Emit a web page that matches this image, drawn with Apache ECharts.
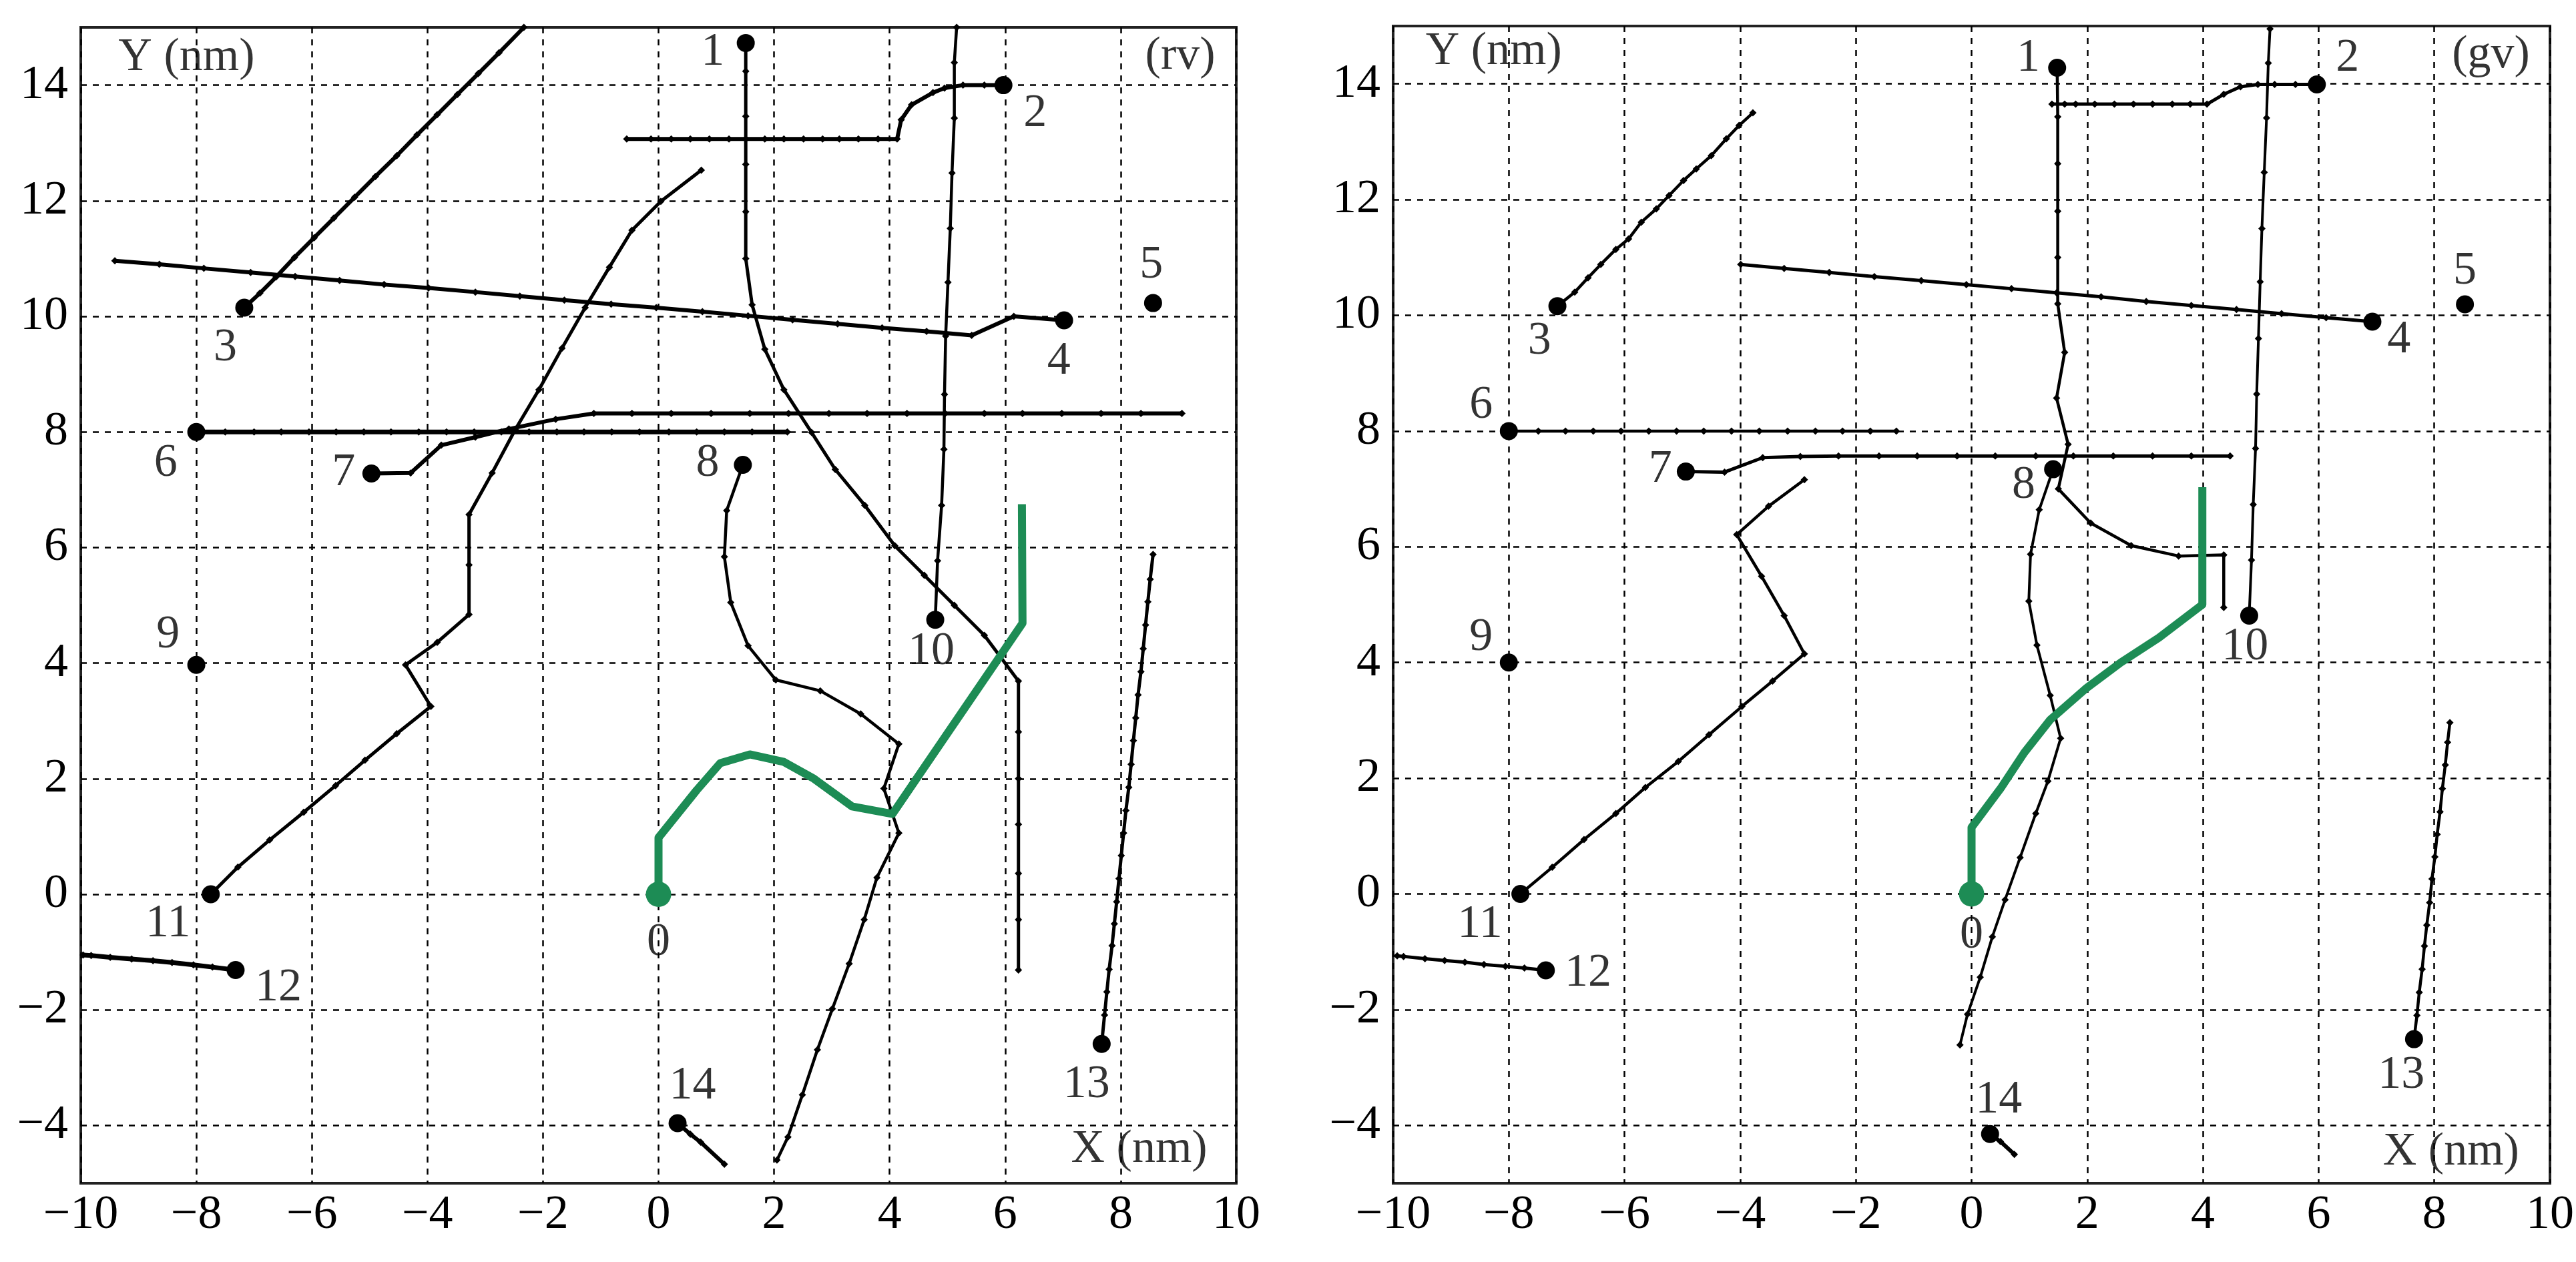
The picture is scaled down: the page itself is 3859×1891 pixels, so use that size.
<!DOCTYPE html>
<html><head><meta charset="utf-8">
<script src="https://cdn.jsdelivr.net/npm/echarts@6/dist/echarts.min.js"></script>
<style>html,body{margin:0;padding:0;background:#fff}#c{width:3859px;height:1891px}</style>
</head><body><div id="c"></div>
<script>
// ---------- axes ----------
const xTickValues = [-10,-8,-6,-4,-2,0,2,4,6,8,10];
const yTickValues = [-4,-2,0,2,4,6,8,10,12,14];

// ---------- panel (rv) ----------
const rvTrack1 = [[1.51,14.73],[1.51,14.24],[1.51,13.46],[1.51,12.63],[1.51,11.81],[1.51,11.0],[1.62,10.2],[1.84,9.43],[2.17,8.73],[2.65,7.99],[3.06,7.35],[3.57,6.73],[4.09,6.03],[4.6,5.52],[5.12,5.0],[5.64,4.48],[6.23,3.69],[6.23,2.81],[6.23,2.0],[6.23,1.21],[6.23,0.36],[6.23,-0.44],[6.23,-1.31]];
const rvTrack2 = [[5.97,14.0],[5.64,14.0],[5.27,14.0],[4.95,13.95],[4.75,13.87],[4.38,13.66],[4.2,13.4],[4.13,13.07],[3.8,13.07],[3.46,13.07],[3.13,13.07],[2.84,13.07],[2.51,13.07],[2.17,13.07],[1.84,13.07],[1.51,13.07],[1.22,13.07],[0.88,13.07],[0.55,13.07],[0.22,13.07],[-0.13,13.07],[-0.55,13.07]];
const rvTrack3 = [[-7.17,10.15],[-6.9,10.4],[-6.62,10.68],[-6.3,11.02],[-5.96,11.36],[-5.62,11.7],[-5.26,12.06],[-4.9,12.42],[-4.53,12.78],[-4.18,13.14],[-3.83,13.49],[-3.48,13.84],[-3.12,14.2],[-2.76,14.56],[-2.33,15.0]];
const rvTrack4 = [[7.02,9.93],[6.15,10.0],[5.42,9.67],[4.64,9.74],[3.87,9.8],[3.1,9.87],[2.32,9.94],[1.55,10.01],[0.76,10.08],[-0.04,10.15],[-0.82,10.21],[-1.63,10.28],[-2.4,10.35],[-3.17,10.42],[-3.98,10.49],[-4.75,10.55],[-5.52,10.62],[-6.29,10.69],[-7.06,10.76],[-7.87,10.83],[-8.64,10.9],[-9.41,10.96]];
const rvTrack6 = [[-8,8],[-7.5,8],[-7.0,8],[-6.53,8],[-6.05,8],[-5.58,8],[-5.1,8],[-4.63,8],[-4.15,8],[-3.67,8],[-3.19,8],[-2.72,8],[-2.24,8],[-1.76,8],[-1.29,8],[-0.81,8],[-0.33,8],[0.18,8],[0.66,8],[1.14,8],[1.62,8],[2.23,8]];
const rvTrack7 = [[-4.97,7.28],[-4.29,7.29],[-3.76,7.77],[-3.17,7.91],[-2.59,8.05],[-1.78,8.22],[-1.12,8.32],[-0.46,8.32],[0.22,8.32],[0.91,8.32],[1.58,8.32],[2.25,8.32],[2.95,8.32],[3.61,8.32],[4.3,8.32],[4.96,8.32],[5.64,8.32],[6.3,8.32],[6.98,8.32],[7.66,8.32],[8.35,8.32],[9.06,8.32]];
const rvTrack8 = [[1.46,7.43],[1.18,6.64],[1.14,5.84],[1.25,5.05],[1.55,4.3],[2.03,3.71],[2.8,3.52],[3.5,3.12],[4.16,2.6],[3.9,1.83],[4.16,1.06],[3.78,0.29],[3.56,-0.44],[3.3,-1.2],[3.01,-1.98],[2.75,-2.69],[2.49,-3.47],[2.24,-4.2],[2.05,-4.6]];
const rvTrack10 = [[4.79,4.75],[4.83,5.77],[4.9,6.73],[4.94,7.7],[4.95,8.65],[4.97,9.66],[5.01,10.59],[5.05,11.52],[5.08,12.48],[5.12,13.43],[5.12,14.39],[5.16,15.0]];
const rvTrack11 = [[-7.75,0],[-7.28,0.47],[-6.73,0.94],[-6.14,1.42],[-5.59,1.88],[-5.08,2.32],[-4.53,2.78],[-3.94,3.25],[-4.38,3.97],[-3.83,4.36],[-3.28,4.84],[-3.28,5.7],[-3.28,6.57],[-2.88,7.29],[-2.48,8.04],[-2.07,8.73],[-1.67,9.45],[-1.27,10.15],[-0.85,10.85],[-0.46,11.49],[0.04,11.99],[0.74,12.53]];
const rvTrack12 = [[-7.32,-1.31],[-7.72,-1.26],[-8.05,-1.22],[-8.42,-1.18],[-8.75,-1.15],[-9.12,-1.12],[-9.49,-1.09],[-9.82,-1.06],[-9.96,-1.05]];
const rvTrack13 = [[7.67,-2.59],[7.72,-2.09],[7.76,-1.69],[7.8,-1.3],[7.85,-0.89],[7.89,-0.51],[7.93,-0.13],[7.97,0.27],[8.01,0.67],[8.05,1.06],[8.09,1.45],[8.14,1.85],[8.18,2.25],[8.22,2.66],[8.26,3.05],[8.3,3.45],[8.35,3.85],[8.39,4.25],[8.43,4.66],[8.47,5.06],[8.51,5.45],[8.56,5.88]];
const rvTrack14 = [[0.33,-3.96],[0.55,-4.15],[0.73,-4.29],[1.14,-4.67]];
const rvGreen = [[0,0],[0,0.98],[0.66,1.8],[1.07,2.27],[1.58,2.42],[2.17,2.29],[2.69,2.0],[3.35,1.52],[4.05,1.39],[6.3,4.69],[6.29,6.75]];
const rvDots = [[1.51,14.73],[5.97,14.0],[-7.17,10.15],[7.02,9.93],[8.56,10.23],[-8,8],[-4.97,7.28],[1.46,7.43],[-8,3.97],[4.79,4.75],[-7.75,0],[-7.32,-1.31],[7.67,-2.59],[0.33,-3.96]];
const rvLabels = [['0',0,-0.84],['1',0.94,14.57],['2',6.52,13.5],['3',-7.5,9.45],['4',6.93,9.22],['5',8.53,10.88],['6',-8.53,7.45],['7',-5.45,7.29],['8',0.85,7.45],['9',-8.49,4.48],['10',4.72,4.2],['11',-8.49,-0.51],['12',-6.58,-1.62],['13',7.41,-3.3],['14',0.59,-3.32]];
const rvCaptions = [['Y (nm)',-8.17,14.47],['(rv)',9.03,14.5],['X (nm)',8.32,-4.42]];

// ---------- panel (gv) ----------
const gvTrack1 = [[1.48,14.28],[1.49,13.43],[1.49,12.62],[1.49,11.8],[1.49,11.0],[1.49,10.2],[1.61,9.36],[1.47,8.57],[1.67,7.77],[1.5,7.0],[2.06,6.41],[2.76,6.02],[3.58,5.84],[4.36,5.86],[4.36,4.95]];
const gvTrack2 = [[5.97,13.99],[5.6,13.99],[5.24,13.99],[4.95,13.99],[4.65,13.95],[4.36,13.82],[4.07,13.65],[3.78,13.65],[3.47,13.65],[3.13,13.65],[2.8,13.65],[2.47,13.65],[2.13,13.65],[1.8,13.65],[1.61,13.65],[1.39,13.65]];
const gvTrack3 = [[-7.16,10.16],[-6.86,10.4],[-6.63,10.65],[-6.41,10.88],[-6.15,11.14],[-5.93,11.32],[-5.71,11.61],[-5.45,11.84],[-5.23,12.07],[-4.98,12.33],[-4.76,12.53],[-4.5,12.76],[-4.24,13.05],[-4.02,13.28],[-3.78,13.5]];
const gvTrack4 = [[6.93,9.89],[6.13,9.96],[5.36,10.03],[4.58,10.1],[3.8,10.17],[3.02,10.24],[2.24,10.32],[1.47,10.39],[0.69,10.46],[-0.09,10.53],[-0.87,10.6],[-1.68,10.67],[-2.46,10.74],[-3.24,10.81],[-3.99,10.88]];
const gvTrack6 = [[-8,8],[-7.49,8],[-7.02,8],[-6.54,8],[-6.06,8],[-5.58,8],[-5.1,8],[-4.63,8],[-4.15,8],[-3.67,8],[-3.18,8],[-2.7,8],[-2.23,8],[-1.75,8],[-1.3,8]];
const gvTrack7 = [[-4.94,7.3],[-4.27,7.29],[-3.61,7.54],[-2.96,7.56],[-2.3,7.57],[-1.6,7.57],[-0.94,7.57],[-0.25,7.57],[0.41,7.57],[1.11,7.57],[1.76,7.57],[2.45,7.57],[3.13,7.57],[3.8,7.57],[4.47,7.57]];
const gvTrack8 = [[1.41,7.34],[1.17,6.64],[1.02,5.87],[0.99,5.06],[1.13,4.3],[1.36,3.43],[1.54,2.69],[1.32,1.95],[1.11,1.39],[0.84,0.63],[0.58,-0.1],[0.36,-0.74],[0.15,-1.44],[-0.07,-2.08],[-0.2,-2.61]];
const gvTrack10 = [[4.8,4.81],[4.84,5.77],[4.87,6.73],[4.91,7.7],[4.93,8.64],[4.96,9.6],[4.99,10.58],[5.02,11.5],[5.06,12.47],[5.1,13.41],[5.13,14.36],[5.16,14.95]];
const gvTrack11 = [[-7.8,0],[-7.25,0.46],[-6.7,0.94],[-6.15,1.39],[-5.64,1.84],[-5.07,2.29],[-4.54,2.75],[-3.97,3.24],[-3.44,3.68],[-2.89,4.15],[-3.24,4.81],[-3.63,5.49],[-4.06,6.21],[-3.51,6.7],[-2.89,7.16]];
const gvTrack12 = [[-7.36,-1.32],[-7.73,-1.28],[-8.06,-1.25],[-8.43,-1.22],[-8.76,-1.18],[-9.11,-1.15],[-9.45,-1.12],[-9.82,-1.08],[-9.93,-1.07]];
const gvTrack13 = [[7.65,-2.51],[7.7,-2.1],[7.74,-1.7],[7.79,-1.3],[7.83,-0.9],[7.87,-0.54],[7.92,-0.15],[7.96,0.26],[8.01,0.64],[8.05,1.03],[8.1,1.42],[8.14,1.82],[8.19,2.23],[8.23,2.62],[8.27,2.96]];
const gvTrack14 = [[0.32,-4.15],[0.5,-4.28],[0.74,-4.5]];
const gvGreen = [[0,0],[0,1.15],[0.5,1.82],[0.91,2.44],[1.36,3.01],[1.99,3.56],[2.58,4.0],[3.24,4.43],[3.99,5.0],[3.99,7.03]];
const gvDots = [[1.48,14.28],[5.97,13.99],[-7.16,10.16],[6.93,9.89],[8.53,10.19],[-8,8],[-4.94,7.3],[1.41,7.34],[-8,4.0],[4.8,4.81],[-7.8,0],[-7.36,-1.32],[7.65,-2.51],[0.32,-4.15]];
const gvLabels = [['0',0,-0.72],['1',0.98,14.44],['2',6.5,14.44],['3',-7.47,9.55],['4',7.39,9.57],['5',8.53,10.76],['6',-8.48,8.44],['7',-5.38,7.34],['8',0.9,7.06],['9',-8.48,4.43],['10',4.73,4.27],['11',-8.5,-0.53],['12',-6.63,-1.37],['13',7.43,-3.14],['14',0.47,-3.56]];
const gvCaptions = [['Y (nm)',-8.26,14.56],['(gv)',8.98,14.5],['X (nm)',8.29,-4.46]];

// ---------- build ----------
const FONT = "'Liberation Serif', 'Times New Roman', Times, serif";
const GREEN = '#1d8c55';

const panels = [
  {tracks:[rvTrack1,rvTrack2,rvTrack3,rvTrack4,rvTrack6,rvTrack7,rvTrack8,rvTrack10,rvTrack11,rvTrack12,rvTrack13,rvTrack14],
   widths:[5,6,6,6,7,6,4.5,4.5,5,7,5,6],
   green:rvGreen, dots:rvDots, labels:rvLabels, captions:rvCaptions},
  {tracks:[gvTrack1,gvTrack2,gvTrack3,gvTrack4,gvTrack6,gvTrack7,gvTrack8,gvTrack10,gvTrack11,gvTrack12,gvTrack13,gvTrack14],
   widths:[4.5,5,4.5,5,4.5,5,4,4,4.5,5,4.5,6],
   green:gvGreen, dots:gvDots, labels:gvLabels, captions:gvCaptions}
];

const series = [];
panels.forEach((p, i) => {
  p.tracks.forEach((t, k) => {
    series.push({type:'line', xAxisIndex:i, yAxisIndex:i, data:t, symbol:'diamond', symbolSize:11,
      showSymbol:true, lineStyle:{color:'#000', width:p.widths[k]}, itemStyle:{color:'#000', opacity:1}, z:3, silent:true});
  });
  series.push({type:'line', xAxisIndex:i, yAxisIndex:i, data:p.green, symbol:'none',
    lineStyle:{color:GREEN, width:12, join:'round', opacity:1}, z:4, silent:true});
  series.push({type:'scatter', xAxisIndex:i, yAxisIndex:i, data:[p.green[0]], symbolSize:38,
    itemStyle:{color:GREEN, opacity:1}, z:5, silent:true});
  series.push({type:'scatter', xAxisIndex:i, yAxisIndex:i, data:p.dots, symbolSize:27,
    itemStyle:{color:'#000', opacity:1}, z:5, silent:true});
  series.push({type:'scatter', xAxisIndex:i, yAxisIndex:i, symbolSize:0, z:6, silent:true,
    data:p.labels.concat(p.captions).map(l => ({name:l[0], value:[l[1], l[2]]})),
    label:{show:true, position:'inside', formatter:q => q.name, color:'#000',
      fontFamily:FONT, fontSize:70, align:'center', verticalAlign:'middle'}});
});

const fmt = v => (v < 0 ? '\u2212' + Math.abs(v) : String(v));
const xAxisBase = (i) => ({type:'value', gridIndex:i, min:-10, max:10, interval:2,
  axisLine:{show:false}, axisTick:{show:false},
  axisLabel:{color:'#000', fontFamily:FONT, fontSize:72, margin:12, formatter:fmt},
  splitLine:{show:true, lineStyle:{color:'#000', width:2.5, type:[9,9]}}});
const yAxisBase = (i) => ({type:'value', gridIndex:i, min:-5, max:15,
  axisLine:{show:false}, axisTick:{show:false, customValues:yTickValues},
  axisLabel:{color:'#000', fontFamily:FONT, fontSize:72, margin:19, customValues:yTickValues, formatter:fmt},
  splitLine:{show:true, lineStyle:{color:'#000', width:2.5, type:[9,9]}}});

const chart = echarts.init(document.getElementById('c'), null, {renderer:'canvas'});
chart.setOption({
  animation:false,
  backgroundColor:'#fff',
  grid:[
    {left:121, top:41, width:1731, height:1732, show:true, borderColor:'#222', borderWidth:4, containLabel:false},
    {left:2087, top:39, width:1738, height:1734, show:true, borderColor:'#222', borderWidth:4, containLabel:false}
  ],
  xAxis:[xAxisBase(0), xAxisBase(1)],
  yAxis:[yAxisBase(0), yAxisBase(1)],
  series:series
});
</script>
</body></html>
